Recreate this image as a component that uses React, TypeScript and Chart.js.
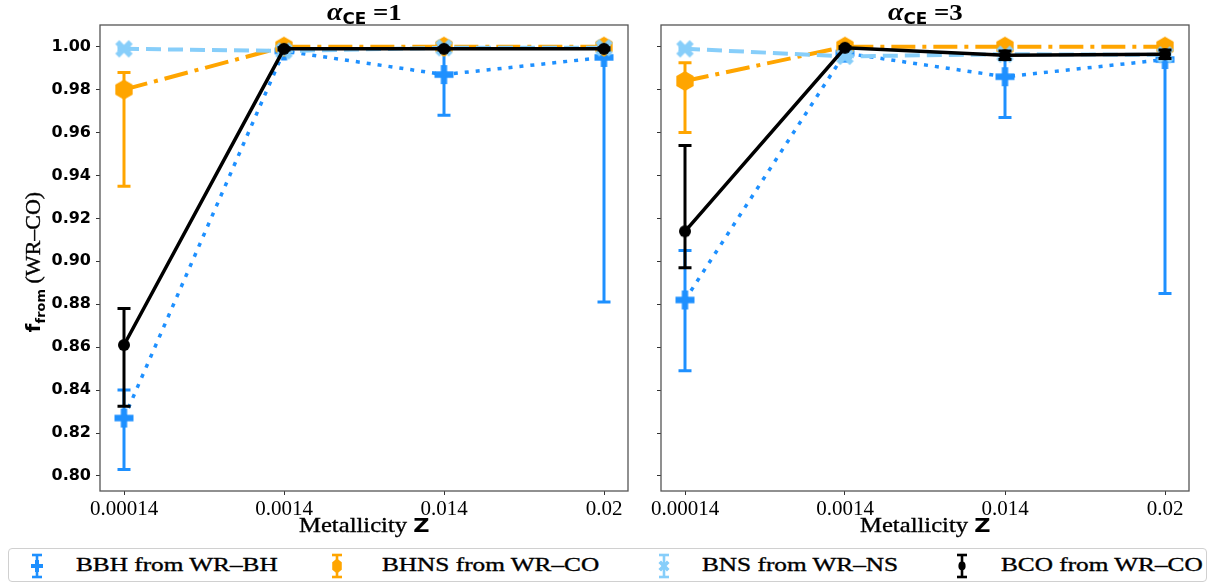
import React, { useEffect, useRef } from 'react';
import { Chart, registerables } from 'chart.js';

Chart.register(...registerables);

// ---------------- data ----------------
const zLabels = ['0.00014', '0.0014', '0.014', '0.02'];
const yTicks = [0.8, 0.82, 0.84, 0.86, 0.88, 0.9, 0.92, 0.94, 0.96, 0.98, 1.0];
const seriesNames = ['BBH from WR–BH', 'BHNS from WR–CO', 'BNS from WR–NS', 'BCO from WR–CO'];

// alpha_CE = 1
const bbh1 = [0.827, 0.998, 0.987, 0.995];
const bbh1Lo = [0.803, 0.997, 0.968, 0.881];
const bbh1Hi = [0.84, 0.999, 1.0, 1.0];
const bhns1 = [0.98, 1.0, 1.0, 1.0];
const bhns1Lo = [0.935, 0.9995, 0.9995, 0.9995];
const bhns1Hi = [0.988, 1.0, 1.0, 1.0];
const bns1 = [0.999, 0.998, 0.9995, 0.9995];
const bns1Lo = [0.9985, 0.9975, 0.999, 0.999];
const bns1Hi = [0.9995, 0.9985, 1.0, 1.0];
const bco1 = [0.861, 0.999, 0.999, 0.999];
const bco1Lo = [0.8325, 0.9985, 0.9985, 0.9985];
const bco1Hi = [0.878, 0.9995, 0.9995, 0.9995];

// alpha_CE = 3
const bbh3 = [0.882, 0.997, 0.986, 0.994];
const bbh3Lo = [0.849, 0.995, 0.967, 0.885];
const bbh3Hi = [0.905, 0.999, 1.0, 1.0];
const bhns3 = [0.984, 1.0, 1.0, 1.0];
const bhns3Lo = [0.96, 0.9995, 0.9995, 0.9995];
const bhns3Hi = [0.9925, 1.0, 1.0, 1.0];
const bns3 = [0.999, 0.9955, 0.9965, 0.9962];
const bns3Lo = [0.9985, 0.995, 0.996, 0.9957];
const bns3Hi = [0.9995, 0.996, 0.997, 0.9967];
const bco3 = [0.914, 0.9995, 0.996, 0.9965];
const bco3Lo = [0.897, 0.999, 0.994, 0.9945];
const bco3Hi = [0.954, 1.0, 0.998, 0.9985];

// ---------------- styles ----------------
const colors = ['#1E90FF', '#FFA500', '#87CEFA', '#000000'];
const dashes: number[][] = [[4, 7], [24, 7, 4, 7], [15, 7], []];
const widths = [3.5, 4, 4, 3.5];
const markerKinds = ['plus', 'hex', 'x', 'circle'];
const markerSizes = [19, 20, 17, 12];

function drawMarkerPath(ctx: CanvasRenderingContext2D, kind: string, size: number) {
  const h = size / 2;
  ctx.beginPath();
  if (kind === 'plus' || kind === 'x') {
    const a = size / 6;
    const L = kind === 'x' ? h * 1.12 : h;
    if (kind === 'x') ctx.rotate(Math.PI / 4);
    ctx.moveTo(-a, -L); ctx.lineTo(a, -L); ctx.lineTo(a, -a); ctx.lineTo(L, -a);
    ctx.lineTo(L, a); ctx.lineTo(a, a); ctx.lineTo(a, L); ctx.lineTo(-a, L);
    ctx.lineTo(-a, a); ctx.lineTo(-L, a); ctx.lineTo(-L, -a); ctx.lineTo(-a, -a);
    ctx.closePath();
  } else if (kind === 'hex') {
    for (let k = 0; k < 6; k++) {
      const ang = (-90 + 60 * k) * Math.PI / 180;
      const px = h * Math.cos(ang), py = h * Math.sin(ang);
      if (k === 0) ctx.moveTo(px, py); else ctx.lineTo(px, py);
    }
    ctx.closePath();
  } else {
    ctx.arc(0, 0, h, 0, Math.PI * 2);
  }
}

function markerCanvas(kind: string, color: string, size: number): HTMLCanvasElement {
  const c = document.createElement('canvas');
  const s = Math.ceil(size) + 4;
  c.width = s; c.height = s;
  const ctx = c.getContext('2d')!;
  ctx.translate(s / 2, s / 2);
  ctx.fillStyle = color;
  drawMarkerPath(ctx, kind, size);
  ctx.fill();
  return c;
}

const errorBarPlugin = {
  id: 'errorBars',
  beforeDatasetDraw(chart: any, args: any) {
    const ds = chart.data.datasets[args.index];
    if (!ds.errLo) return;
    const ctx = chart.ctx;
    const xs = chart.scales.x, ys = chart.scales.y;
    const ca = chart.chartArea;
    ctx.save();
    ctx.beginPath();
    ctx.rect(ca.left, ca.top, ca.right - ca.left, ca.bottom - ca.top);
    ctx.clip();
    ctx.strokeStyle = ds.borderColor;
    ctx.lineCap = 'butt';
    ds.errLo.forEach((lo: number, i: number) => {
      const hi = ds.errHi[i];
      const x = xs.getPixelForValue(i);
      const yl = ys.getPixelForValue(lo);
      const yh = ys.getPixelForValue(hi);
      ctx.lineWidth = 3;
      ctx.beginPath();
      ctx.moveTo(x, yl); ctx.lineTo(x, yh); ctx.stroke();
      ctx.beginPath();
      ctx.moveTo(x - 6.5, yl); ctx.lineTo(x + 6.5, yl);
      ctx.moveTo(x - 6.5, yh); ctx.lineTo(x + 6.5, yh);
      ctx.stroke();
    });
    ctx.restore();
  },
};

const framePlugin = {
  id: 'frame',
  afterDatasetsDraw(chart: any) {
    const { ctx, chartArea: a } = chart;
    ctx.save();
    ctx.strokeStyle = '#555';
    ctx.lineWidth = 1.3;
    ctx.strokeRect(a.left, a.top, a.right - a.left, a.bottom - a.top);
    ctx.restore();
  },
};

type Panel = { vals: number[][]; lo: number[][]; hi: number[][] };

const panel1: Panel = {
  vals: [bbh1, bhns1, bns1, bco1],
  lo: [bbh1Lo, bhns1Lo, bns1Lo, bco1Lo],
  hi: [bbh1Hi, bhns1Hi, bns1Hi, bco1Hi],
};
const panel3: Panel = {
  vals: [bbh3, bhns3, bns3, bco3],
  lo: [bbh3Lo, bhns3Lo, bns3Lo, bco3Lo],
  hi: [bbh3Hi, bhns3Hi, bns3Hi, bco3Hi],
};

function makeConfig(p: Panel, yWidth: number, showY: boolean, padRight: number): any {
  const datasets = p.vals.map((vals, k) => ({
    label: seriesNames[k],
    data: vals.map((v, i) => ({ x: i, y: v })),
    borderColor: colors[k],
    backgroundColor: colors[k],
    borderWidth: widths[k],
    borderDash: dashes[k],
    borderCapStyle: 'butt',
    pointStyle: markerCanvas(markerKinds[k], colors[k], markerSizes[k]),
    pointRadius: 9,
    pointHoverRadius: 9,
    pointBorderWidth: 0,
    tension: 0,
    fill: false,
    order: 4 - k,
    errLo: p.lo[k],
    errHi: p.hi[k],
  }));
  const grid = { drawOnChartArea: false, drawTicks: true, tickLength: 4, color: '#333', lineWidth: 1 };
  return {
    type: 'line',
    data: { datasets },
    plugins: [errorBarPlugin, framePlugin],
    options: {
      responsive: false,
      animation: false,
      events: [],
      layout: { padding: { left: 0, right: padRight, top: 25, bottom: 0 } },
      plugins: { legend: { display: false }, tooltip: { enabled: false }, title: { display: false } },
      scales: {
        x: {
          type: 'linear',
          min: -0.15,
          max: 3.15,
          afterBuildTicks: (s: any) => { s.ticks = zLabels.map((_, i) => ({ value: i })); },
          afterFit: (s: any) => { s.height = 49; },
          ticks: {
            callback: (v: number) => zLabels[Math.round(v)],
            font: { family: "'Liberation Serif', serif", size: 21 },
            color: '#000',
            padding: 2,
            maxRotation: 0,
            autoSkip: false,
          },
          grid,
          border: { display: false },
        },
        y: {
          type: 'linear',
          min: 0.793,
          max: 1.0101,
          afterBuildTicks: (s: any) => { s.ticks = yTicks.map((v) => ({ value: v })); },
          afterFit: (s: any) => { s.width = yWidth; },
          ticks: {
            display: showY,
            callback: (v: number) => v.toFixed(2),
            font: { family: "'DejaVu Sans', sans-serif", size: 16, weight: 'bold' },
            color: '#000',
            padding: 5,
          },
          grid,
          border: { display: false },
        },
      },
    },
  };
}

function PanelChart({ p, left, width, yWidth, showY, padRight }: any) {
  const ref = useRef<HTMLCanvasElement>(null);
  useEffect(() => {
    const chart = new Chart(ref.current!, makeConfig(p, yWidth, showY, padRight));
    return () => chart.destroy();
  }, []);
  return (
    <div style={{ position: 'absolute', left, top: 0, width, height: 540 }}>
      <canvas ref={ref} width={width} height={540} style={{ width, height: 540, display: 'block' }} />
    </div>
  );
}

const serif = "'Liberation Serif', serif";
const sansB = "'DejaVu Sans', sans-serif";
const darken = { WebkitTextStroke: '0.35px #000' } as any;

function Title({ cx, n }: { cx: number; n: string }) {
  return (
    <div style={{ position: 'absolute', left: cx - 100, width: 200, top: 0, textAlign: 'center', lineHeight: '24px', whiteSpace: 'nowrap' }}>
      <span style={{ display: 'inline-block', transform: 'scaleX(1.12)', fontWeight: 'bold' }}>
        <span style={{ fontFamily: serif, fontStyle: 'italic', fontSize: 25 }}>α</span>
        <span style={{ fontFamily: sansB, fontWeight: 'bold', fontSize: 15, position: 'relative', top: 4 }}>CE</span>
        <span style={{ fontFamily: serif, fontSize: 24 }}> =</span>
        <span style={{ fontFamily: serif, fontSize: 24 }}>{n}</span>
      </span>
    </div>
  );
}

function XLabel({ cx }: { cx: number }) {
  return (
    <div style={{ position: 'absolute', left: cx - 100, width: 200, top: 513, textAlign: 'center', lineHeight: '24px', whiteSpace: 'nowrap' }}>
      <span style={{ display: 'inline-block', transform: 'scaleX(1.12)' }}>
        <span style={{ fontFamily: serif, fontSize: 22, ...darken }}>Metallicity </span>
        <span style={{ fontFamily: sansB, fontWeight: 'bold', fontSize: 20 }}>Z</span>
      </span>
    </div>
  );
}

function LegendIcon({ k }: { k: number }) {
  const c = colors[k];
  const kind = markerKinds[k];
  const s = [12, 13, 11, 8][k];
  const h = s / 2;
  let shape: any = null;
  if (kind === 'plus') {
    const a = s / 6;
    shape = <polygon fill={c} points={`${-a},${-h} ${a},${-h} ${a},${-a} ${h},${-a} ${h},${a} ${a},${a} ${a},${h} ${-a},${h} ${-a},${a} ${-h},${a} ${-h},${-a} ${-a},${-a}`} />;
  } else if (kind === 'hex') {
    const pts = [0, 1, 2, 3, 4, 5].map((j) => {
      const ang = (-90 + 60 * j) * Math.PI / 180;
      return `${(h * 0.85 * Math.cos(ang)).toFixed(2)},${(h * 1.15 * Math.sin(ang)).toFixed(2)}`;
    }).join(' ');
    shape = <polygon fill={c} points={pts} />;
  } else if (kind === 'x') {
    const a = s / 6, L = h * 1.1;
    shape = <polygon fill={c} transform="rotate(45)" points={`${-a},${-L} ${a},${-L} ${a},${-a} ${L},${-a} ${L},${a} ${a},${a} ${a},${L} ${-a},${L} ${-a},${a} ${-L},${a} ${-L},${-a} ${-a},${-a}`} />;
  } else {
    shape = <ellipse fill={c} rx={h * 0.9} ry={h * 1.1} />;
  }
  return (
    <svg width={20} height={28} viewBox="-10 -14 20 28" style={{ position: 'absolute', left: -10, top: -14 }}>
      <line x1={0} y1={-11} x2={0} y2={11} stroke={c} strokeWidth={2.6} />
      <line x1={-5} y1={-11} x2={5} y2={-11} stroke={c} strokeWidth={2.6} />
      <line x1={-5} y1={11} x2={5} y2={11} stroke={c} strokeWidth={2.6} />
      {shape}
    </svg>
  );
}

const legendIconX = [36, 336, 663, 961];
const legendTextX = [75, 381, 701, 1000];

function Legend() {
  return (
    <div style={{ position: 'absolute', left: 8, top: 548, width: 1199, height: 34, border: '1px solid #d0d0d0', borderRadius: 4, boxSizing: 'border-box', background: '#fff' }}>
      {seriesNames.map((n, k) => (
        <React.Fragment key={k}>
          <div style={{ position: 'absolute', left: legendIconX[k] - 8, top: 17 }}>
            <LegendIcon k={k} />
          </div>
          <div style={{ position: 'absolute', left: legendTextX[k] - 8, top: 4, lineHeight: '24px', whiteSpace: 'nowrap', fontFamily: serif, fontSize: 19, transformOrigin: 'left center', transform: 'scaleX(1.33)', ...darken }}>
            {n}
          </div>
        </React.Fragment>
      ))}
    </div>
  );
}

function YLabel() {
  return (
    <div style={{ position: 'absolute', left: 34, top: 262, transform: 'translate(-50%, -50%) rotate(-90deg)', whiteSpace: 'nowrap', lineHeight: '24px' }}>
      <span style={{ fontFamily: sansB, fontWeight: 'bold', fontSize: 20 }}>f</span>
      <span style={{ fontFamily: sansB, fontWeight: 'bold', fontSize: 13, position: 'relative', top: 5 }}>from</span>
      <span style={{ fontFamily: serif, fontSize: 22, ...darken }}> (WR–CO)</span>
    </div>
  );
}

export default function App() {
  return (
    <div style={{ position: 'absolute', left: 0, top: 0, width: 1214, height: 586, background: '#fff', overflow: 'hidden', color: '#000' }}>
      <PanelChart p={panel1} left={0} width={640} yWidth={100} showY={true} padRight={12} />
      <PanelChart p={panel3} left={640} width={574} yWidth={21} showY={false} padRight={25} />
      <Title cx={364} n="1" />
      <Title cx={925} n="3" />
      <XLabel cx={364} />
      <XLabel cx={925} />
      <YLabel />
      <Legend />
    </div>
  );
}
